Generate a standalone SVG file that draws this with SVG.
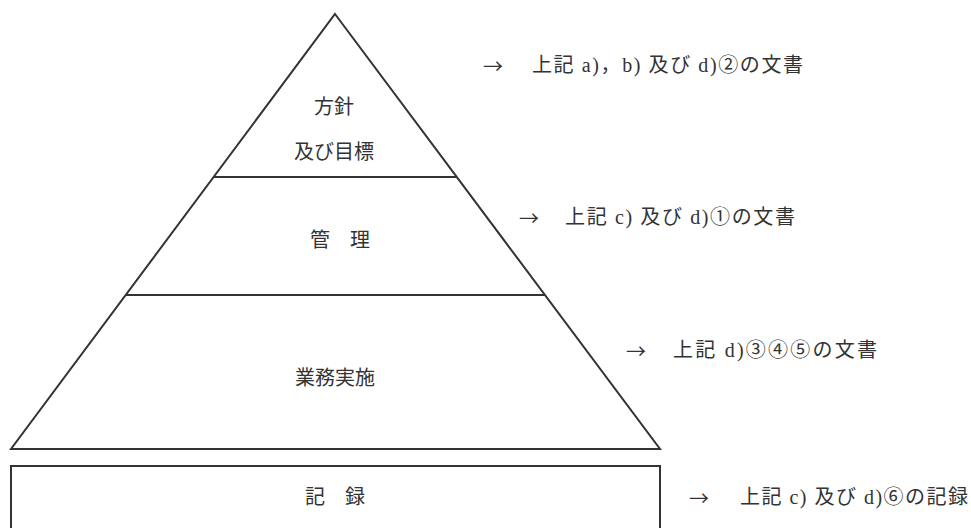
<svg xmlns="http://www.w3.org/2000/svg" width="971" height="528" viewBox="0 0 971 528">
<style>
.shape{fill:none;stroke:#333;stroke-width:2}
.lbl{font-family:"Liberation Serif","Noto Sans CJK JP",serif;font-size:20px;fill:#333;text-anchor:middle;dominant-baseline:central}
.note{font-family:"Liberation Serif","Noto Sans CJK JP",serif;font-size:20px;fill:#333;dominant-baseline:central}
.arr{font-family:"Noto Sans CJK JP",sans-serif;font-size:20px;fill:#333;dominant-baseline:central}
</style>
<rect width="971" height="528" fill="#fff"/>
<g id="pyramid">
<polygon class="shape" points="335,14 660,449 11,449"/>
</g>
<g id="connectors">
<line class="shape" x1="214" y1="177" x2="457" y2="177"/>
<line class="shape" x1="126" y1="295" x2="545" y2="295"/>
</g>
<g id="node-policy">
<text class="lbl" x="334" y="107">方針</text>
<text class="lbl" x="334" y="152">及び目標</text>
</g>
<g id="node-management">
<text class="lbl" x="340" y="240">管　理</text>
</g>
<g id="node-operation">
<text class="lbl" x="335" y="378">業務実施</text>
</g>
<g id="node-record">
<rect class="shape" x="11" y="466" width="649" height="80"/>
<text class="lbl" x="335" y="497">記　録</text>
</g>
<g id="notes">
<text class="arr" x="483" y="65" textLength="20" lengthAdjust="spacingAndGlyphs">→</text>
<text class="note" x="532" y="65" textLength="271" lengthAdjust="spacing">上記 a)，b) 及び d)②の文書</text>
<text class="arr" x="519" y="217" textLength="20" lengthAdjust="spacingAndGlyphs">→</text>
<text class="note" x="565" y="217" textLength="230" lengthAdjust="spacing">上記 c) 及び d)①の文書</text>
<text class="arr" x="626" y="350" textLength="20" lengthAdjust="spacingAndGlyphs">→</text>
<text class="note" x="673" y="350" textLength="204" lengthAdjust="spacing">上記 d)③④⑤の文書</text>
<text class="arr" x="689" y="497" textLength="20" lengthAdjust="spacingAndGlyphs">→</text>
<text class="note" x="740" y="497" textLength="228" lengthAdjust="spacing">上記 c) 及び d)⑥の記録</text>
</g>
</svg>
